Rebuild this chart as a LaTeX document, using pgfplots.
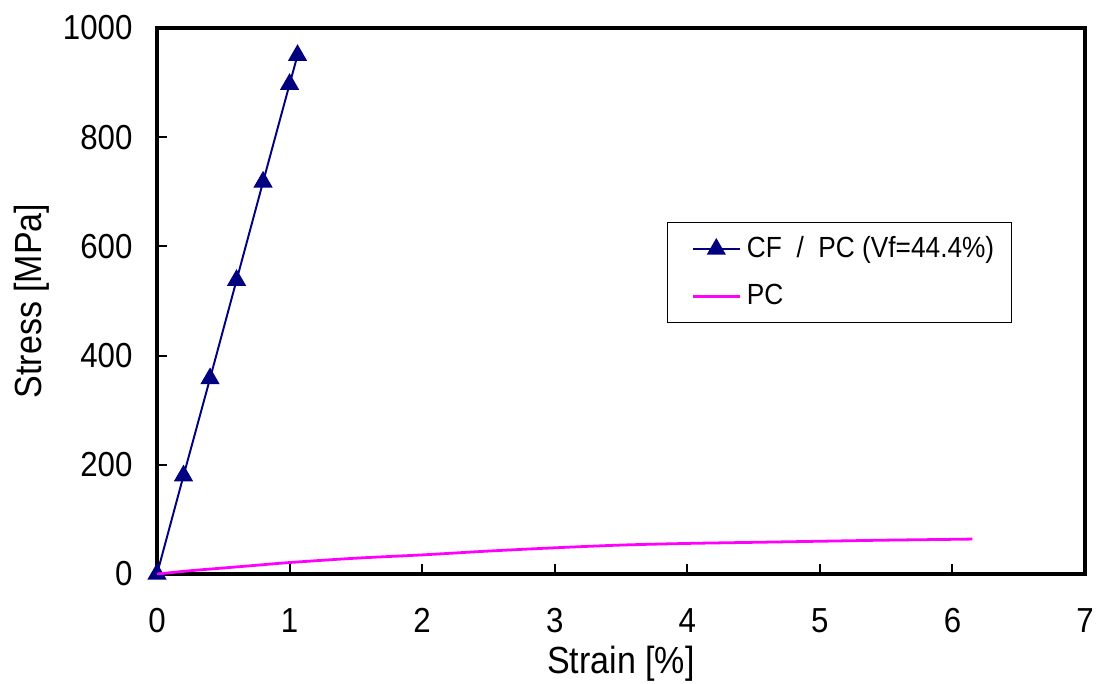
\documentclass[border=0pt]{standalone}
\usepackage{pgfplots}
\pgfplotsset{compat=1.18}
\usepackage{fontspec}
\setmainfont[FakeStretch=0.9]{Liberation Sans}

\definecolor{cfnavy}{RGB}{0,0,128}
\definecolor{pcmagenta}{RGB}{255,0,255}

% stress-strain data
\pgfplotstableread{
strain stress
0     0
0.2   180
0.4   358
0.6   538
0.8   718
1.0   897
1.06  950
}\cfpc

\pgfplotstableread{
strain stress
0     0
0.25  6
0.5   11
0.75  16
1.0   21
1.5   29
2.0   35
2.5   42
3.0   48
3.5   53
4.0   56
4.5   58
5.0   60
5.5   62
6.0   63.5
6.15  64
}\pc

\newlength{\pxu}
\setlength{\pxu}{0.36pt}

\begin{document}
\begin{tikzpicture}
\begin{axis}[
  scale only axis,
  width=928\pxu, height=546\pxu,
  xmin=0, xmax=7, ymin=0, ymax=1000,
  xtick={0,1,...,7},
  ytick={0,200,...,1000},
  tick pos=left,
  tick align=inside,
  major tick length=10\pxu,
  axis line style={line width=1.1pt},
  every tick/.style={black, line width=0.7pt},
  tick label style={font=\fontsize{12.5}{14}\selectfont, inner sep=0pt},
  xticklabel style={anchor=north, yshift=-34\pxu},
  yticklabel style={anchor=east, xshift=-24\pxu},
  /pgf/number format/assume math mode=true,
  /pgf/number format/1000 sep={},
  xlabel={Strain [\%]},
  ylabel={Stress [MPa]},
  label style={font=\fontsize{13.6}{15}\selectfont},
  xlabel style={at={([yshift=-99\pxu]axis description cs:0.5,0)}, anchor=base},
  ylabel style={at={([xshift=-115\pxu]axis description cs:0,0.5)}, anchor=base},
  clip mode=individual,
  legend style={
    at={([yshift=-1\pxu]rel axis cs:0.5496,0.6465)}, anchor=north west,
    draw=black, line width=0.4pt,
    font=\fontsize{10.5}{12}\selectfont,
    inner xsep=8.5pt, inner ysep=3pt,
    row sep=4pt,
  },
  legend cell align=left,
]
\addplot[color=cfnavy, line width=0.7pt, mark=triangle*, mark size=3.3pt,
  mark options={fill=cfnavy, draw=cfnavy}]
  table[x=strain, y=stress] {\cfpc};
\addlegendentry{CF \ / \ PC (Vf=44.4\%)\hspace*{-12\pxu}}
\addplot[color=pcmagenta, line width=1pt, smooth]
  table[x=strain, y=stress] {\pc};
\addlegendentry{PC}
\end{axis}
\pgfresetboundingbox
\path ([xshift=-157\pxu, yshift=-109\pxu]current axis.south west)
  rectangle ([xshift=16\pxu, yshift=28\pxu]current axis.north east);
\end{tikzpicture}
\end{document}
